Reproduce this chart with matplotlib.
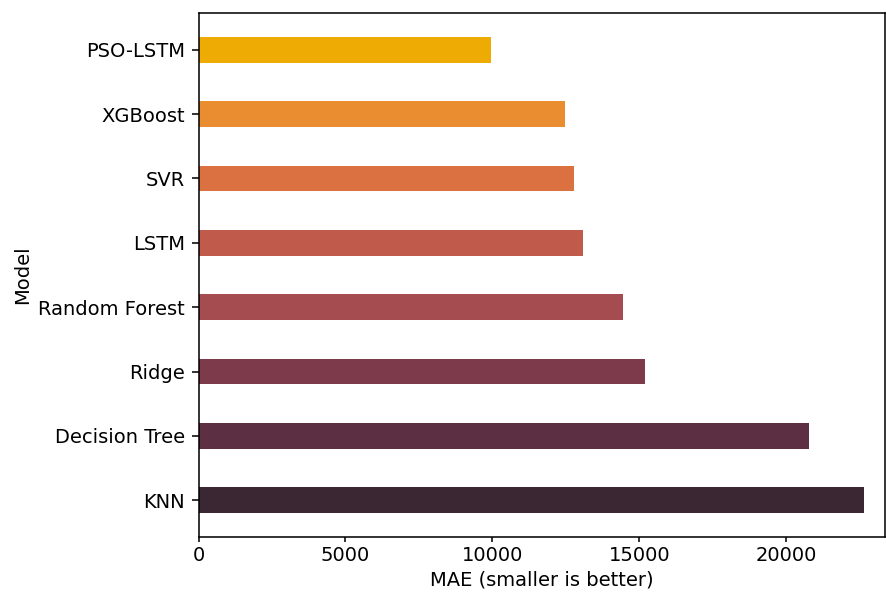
import matplotlib.pyplot as plt

# MAE per model (bottom to top)
models = ["KNN", "Decision Tree", "Ridge", "Random Forest", "LSTM", "SVR", "XGBoost", "PSO-LSTM"]
mae = [22630, 20760, 15190, 14430, 13080, 12790, 12460, 9960]
colors = ["#3b2733", "#5c2f42", "#7c3a4a", "#a54c50", "#c05a4b", "#db7040", "#e98d30", "#eeab04"]

dpi = 140
fig = plt.figure(figsize=(886 / dpi, 594 / dpi), dpi=dpi)
ax = fig.add_axes([198.5 / 886, 57 / 594, 686.5 / 886, 524 / 594])

ax.barh(models, mae, height=0.4, color=colors)
ax.set_xlim(0, 23360)
ax.tick_params(axis="x", length=2.5, pad=2)
ax.set_xlabel("MAE (smaller is better)", labelpad=3)
ax.set_ylabel("Model", labelpad=3)

fig.savefig("out.png", dpi=dpi)
